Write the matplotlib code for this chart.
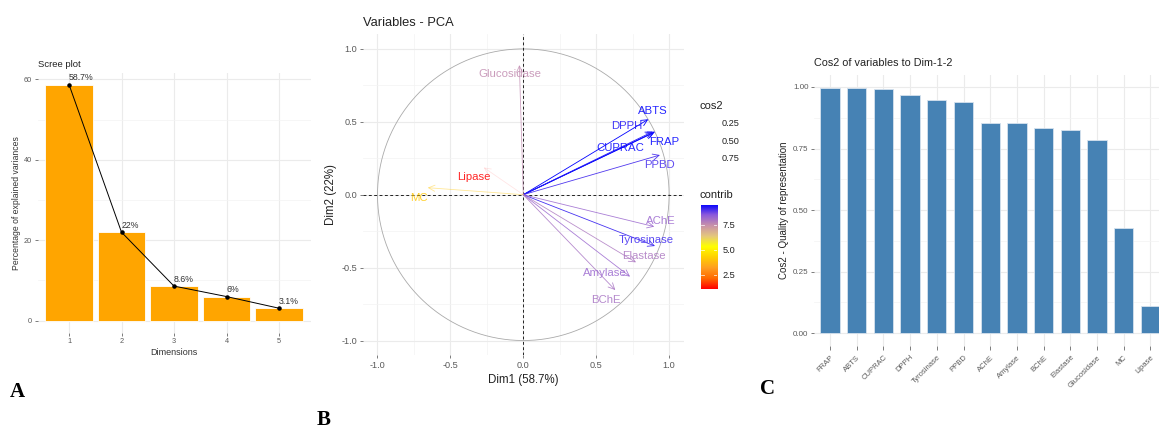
import numpy as np
import matplotlib
matplotlib.use('Agg')
import matplotlib.pyplot as plt
from matplotlib.colors import LinearSegmentedColormap, Normalize

plt.rcParams['font.family'] = ['Liberation Sans', 'DejaVu Sans']

# --- data -------------------------------------------------------------
dims = [1, 2, 3, 4, 5]
explained = [58.7, 22.0, 8.6, 6.0, 3.1]
explained_labels = ['58.7%', '22%', '8.6%', '6%', '3.1%']

variables = ['FRAP', 'ABTS', 'CUPRAC', 'DPPH', 'Tyrosinase', 'PPBD', 'AChE',
             'Amylase', 'BChE', 'Elastase', 'Glucosidase', 'MC', 'Lipase']
cos2 = [0.997, 0.995, 0.992, 0.969, 0.946, 0.940, 0.855,
        0.855, 0.834, 0.825, 0.786, 0.426, 0.111]
dim1 = [0.903, 0.857, 0.894, 0.887, 0.903, 0.937, 0.898,
        0.732, 0.631, 0.773, -0.027, -0.656, -0.272]
dim2 = [0.432, 0.517, 0.425, 0.432, -0.352, 0.272, -0.219,
        -0.562, -0.654, -0.464, 0.889, 0.048, 0.187]
contrib = [9.50, 9.48, 9.45, 9.23, 9.01, 8.96, 8.15,
           8.15, 7.95, 7.86, 7.49, 4.06, 1.06]

# where ggrepel put the labels (data coords)
label_pos = {
    'ABTS': (0.887, 0.572), 'DPPH': (0.709, 0.471), 'CUPRAC': (0.668, 0.320),
    'FRAP': (0.969, 0.359), 'PPBD': (0.935, 0.201), 'Lipase': (-0.336, 0.123),
    'MC': (-0.713, -0.021), 'AChE': (0.946, -0.178), 'Tyrosinase': (0.846, -0.313),
    'Elastase': (0.825, -0.421), 'Amylase': (0.556, -0.535), 'BChE': (0.565, -0.722),
    'Glucosidase': (-0.091, 0.826),
}

W, H = 1159, 430
fig = plt.figure(figsize=(W / 100, H / 100), dpi=100)


def px_axes(left, top, right, bottom):
    return fig.add_axes([left / W, 1 - bottom / H, (right - left) / W, (bottom - top) / H])


def minimal(ax, tsize):
    for s in ax.spines.values():
        s.set_visible(False)
    ax.set_axisbelow(True)
    ax.grid(True, which='major', color='#EBEBEB', lw=0.8)
    ax.grid(True, which='minor', color='#F3F3F3', lw=0.5)
    ax.tick_params(which='major', length=2, width=0.6, color='#666666',
                   labelsize=tsize, labelcolor='#5A5A5A', pad=2)
    ax.tick_params(which='minor', length=0)


# --- A: scree plot ----------------------------------------------------
axA = px_axes(37.5, 72.7, 310.5, 332.5)
minimal(axA, 5.3)
axA.bar(dims, explained, width=0.9, color='#FFA500', edgecolor='white', lw=0.6, zorder=2)
axA.plot(dims, explained, color='black', lw=0.7, zorder=3)
axA.scatter(dims, explained, s=5, color='black', zorder=4)
for d, v, t in zip(dims, explained, explained_labels):
    axA.annotate(t, (d, v), xytext=(0, 1.5), textcoords='offset points',
                 ha='left', va='bottom', fontsize=6.3, color='#333333', zorder=5)
axA.set_xlim(0.4, 5.6)
axA.set_ylim(-2.935, 61.635)
axA.set_xticks(dims)
axA.set_yticks([0, 20, 40, 60])
axA.set_yticks([10, 30, 50], minor=True)
axA.xaxis.grid(False, which='minor')
axA.set_xlabel('Dimensions', fontsize=6.5, color='#333333', labelpad=2)
axA.set_ylabel('Percentage of explained variances', fontsize=6.2, color='#333333', labelpad=2)
axA.set_title('Scree plot', fontsize=6.8, color='#222222', loc='left', pad=4)

# --- B: variables PCA -------------------------------------------------
cmap = LinearSegmentedColormap.from_list('contrib', [
    (0.0, '#FF0000'), (0.125, '#FF6A00'), (0.25, '#FF9F20'), (0.375, '#FFD000'),
    (0.5, '#FFFF00'), (0.625, '#E4C67E'), (0.75, '#C891AA'), (0.875, '#8C5ADC'),
    (1.0, '#0000FF')])
norm = Normalize(min(contrib), max(contrib))

axB = px_axes(362.9, 34.3, 683.7, 355.1)
minimal(axB, 6.6)
axB.set_xlim(-1.1, 1.1)
axB.set_ylim(-1.1, 1.1)
ticks = [-1.0, -0.5, 0.0, 0.5, 1.0]
axB.set_xticks(ticks)
axB.set_yticks(ticks)
axB.set_xticklabels(['-1.0', '-0.5', '0.0', '0.5', '1.0'])
axB.set_yticklabels(['-1.0', '-0.5', '0.0', '0.5', '1.0'])
axB.set_xticks([-0.75, -0.25, 0.25, 0.75], minor=True)
axB.set_yticks([-0.75, -0.25, 0.25, 0.75], minor=True)
theta = np.linspace(0, 2 * np.pi, 300)
axB.plot(np.cos(theta), np.sin(theta), color='#AAAAAA', lw=0.6, zorder=2)
axB.axhline(0, color='#222222', ls=(0, (3, 2.5)), lw=0.7, zorder=2)
axB.axvline(0, color='#222222', ls=(0, (3, 2.5)), lw=0.7, zorder=2)

c_lo, c_hi = min(cos2), max(cos2)
for name, x, y, q, c in zip(variables, dim1, dim2, cos2, contrib):
    col = cmap(norm(c))
    a = 0.1 + 0.9 * (q - c_lo) / (c_hi - c_lo)
    axB.annotate('', xy=(x, y), xytext=(0, 0),
                 arrowprops=dict(arrowstyle='->,head_length=0.45,head_width=0.22',
                                 color=col, alpha=a, lw=0.6, shrinkA=0, shrinkB=0),
                 zorder=3)
    lx, ly = label_pos[name]
    axB.text(lx, ly, name, color=col, fontsize=8.2, ha='center', va='center',
             alpha=0.85, zorder=4)
axB.set_xlabel('Dim1 (58.7%)', fontsize=8.3, color='#222222', labelpad=3)
axB.set_ylabel('Dim2 (22%)', fontsize=8.3, color='#222222', labelpad=3)
axB.set_title('Variables - PCA', fontsize=9.3, color='#222222', loc='left', pad=6)

# legends
fig.text(700 / W, 1 - 106 / H, 'cos2', fontsize=8, color='#222222', va='center')
for v, yy in zip(['0.25', '0.50', '0.75'], [124, 141.7, 158.7]):
    fig.text(722 / W, 1 - yy / H, v, fontsize=6.6, color='#222222', va='center')
fig.text(700 / W, 1 - 195 / H, 'contrib', fontsize=8, color='#222222', va='center')
cax = px_axes(700.7, 205, 717.3, 289.3)
grad = np.linspace(min(contrib), max(contrib), 256).reshape(-1, 1)
cax.imshow(grad, cmap=cmap, norm=norm, aspect='auto', origin='lower',
           extent=[0, 1, min(contrib), max(contrib)])
cax.set_xlim(0, 1)
cax.set_ylim(min(contrib), max(contrib))
for s in cax.spines.values():
    s.set_visible(False)
cax.set_xticks([])
cax.yaxis.tick_right()
cax.set_yticks([2.5, 5.0, 7.5])
cax.set_yticklabels(['2.5', '5.0', '7.5'])
cax.tick_params(axis='y', length=0, labelsize=6.6, labelcolor='#222222', pad=4)
for t in [2.5, 5.0, 7.5]:
    cax.plot([0, 0.2], [t, t], color='white', lw=0.6, alpha=0.8)
    cax.plot([0.8, 1], [t, t], color='white', lw=0.6, alpha=0.8)

# --- C: cos2 bars -----------------------------------------------------
axC = px_axes(814, 75.4, 1166.4, 345.6)
minimal(axC, 5.8)
xs = np.arange(1, len(variables) + 1)
axC.bar(xs, cos2, width=0.72, color='#4682B4', edgecolor='#D6E2EE', lw=0.6, zorder=2)
axC.set_xlim(0.4, len(variables) + 0.6)
axC.set_ylim(-0.05, 1.047)
axC.set_yticks([0, 0.25, 0.5, 0.75, 1.0])
axC.set_yticklabels(['0.00', '0.25', '0.50', '0.75', '1.00'])
axC.set_yticks([0.125, 0.375, 0.625, 0.875], minor=True)
axC.xaxis.grid(False, which='minor')
axC.set_xticks(xs)
axC.set_xticklabels(variables, rotation=45, ha='right', rotation_mode='anchor', fontsize=5.5)
axC.tick_params(axis='x', length=3, pad=3)
axC.set_ylabel('Cos2 - Quality of representation', fontsize=7, color='#222222', labelpad=3)
axC.set_title('Cos2 of variables to Dim-1-2', fontsize=7.8, color='#222222', loc='left', pad=7)

# --- panel letters ----------------------------------------------------
for letter, lx, by in [('A', 10, 397), ('B', 317, 425), ('C', 760, 394)]:
    fig.text(lx / W, 1 - by / H, letter, fontsize=15, fontweight='bold',
             family='Liberation Serif', va='baseline', ha='left')

fig.savefig('out.png', dpi=100)
